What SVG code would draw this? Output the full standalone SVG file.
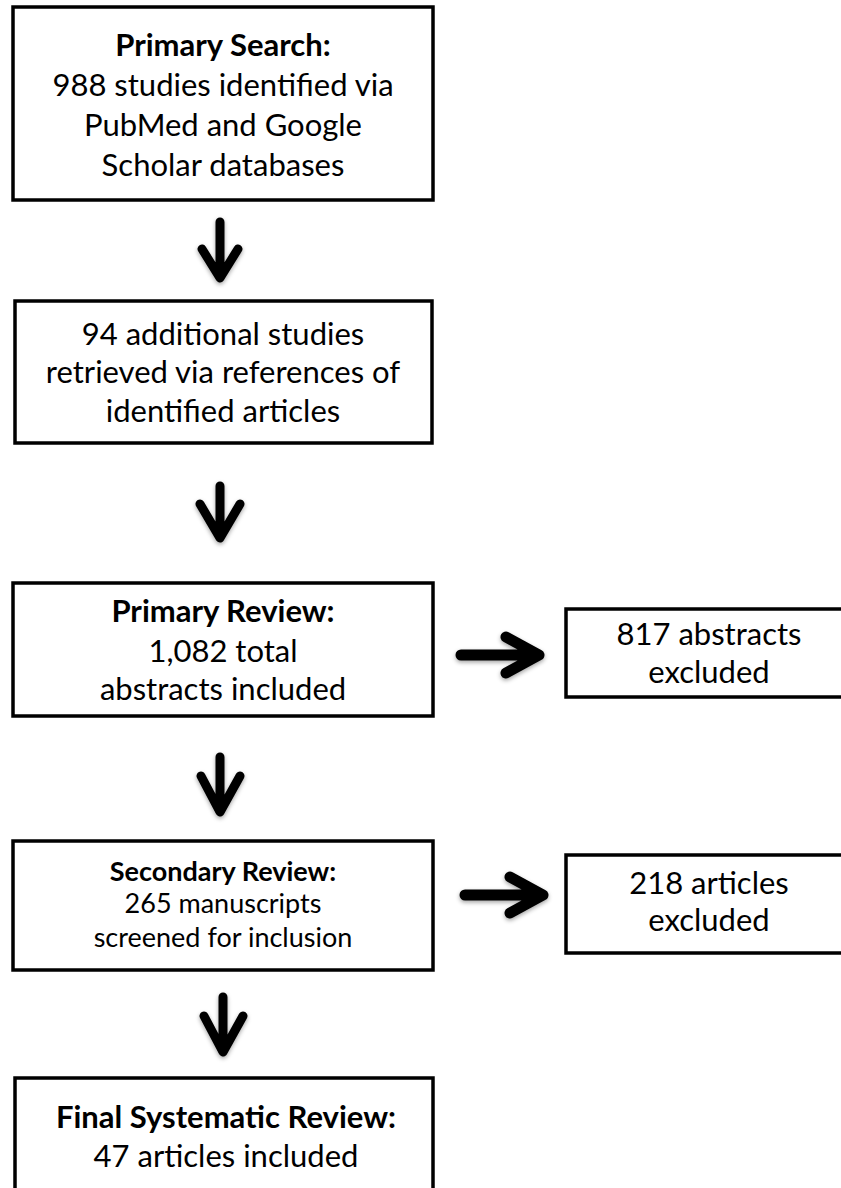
<svg xmlns="http://www.w3.org/2000/svg" width="841" height="1188" viewBox="0 0 841 1188">
<style>
.box{fill:#fff;stroke:#000;stroke-width:3.5}
.t{font-family:Lato,"Liberation Sans",sans-serif;font-size:31px;fill:#000;text-anchor:middle}
.s{font-size:27px}
.b{font-weight:bold}
.arr{fill:none;stroke:#000;stroke-linecap:round;stroke-linejoin:round}
</style>
<defs>
<filter id="sh" x="-50%" y="-50%" width="200%" height="200%">
<feDropShadow dx="0" dy="2" stdDeviation="2" flood-color="#000" flood-opacity="0.35"/>
</filter>
</defs>
<rect width="841" height="1188" fill="#fff"/>
<g id="n1">
<rect class="box" x="13" y="7" width="420" height="193"/>
<text class="t b" x="223" y="56">Primary Search:</text>
<text class="t" x="223" y="96">988 studies identified via</text>
<text class="t" x="223" y="136">PubMed and Google</text>
<text class="t" x="223" y="176">Scholar databases</text>
</g>
<g id="n2">
<rect class="box" x="15" y="301" width="417" height="142"/>
<text class="t" x="223" y="345">94 additional studies</text>
<text class="t" x="223" y="383">retrieved via references of</text>
<text class="t" x="223" y="422">identified articles</text>
</g>
<g id="n3">
<rect class="box" x="13" y="583" width="420" height="133"/>
<text class="t b" x="223" y="622">Primary Review:</text>
<text class="t" x="223" y="662">1,082 total</text>
<text class="t" x="223" y="700">abstracts included</text>
</g>
<g id="n4">
<rect class="box" x="566" y="609" width="300" height="88"/>
<text class="t" x="709" y="645">817 abstracts</text>
<text class="t" x="709" y="683">excluded</text>
</g>
<g id="n5">
<rect class="box" x="13" y="841" width="420" height="129"/>
<text class="t s b" x="223" y="881">Secondary Review:</text>
<text class="t s" x="223" y="913">265 manuscripts</text>
<text class="t s" x="223" y="947">screened for inclusion</text>
</g>
<g id="n6">
<rect class="box" x="566" y="855" width="300" height="98"/>
<text class="t" x="709" y="894">218 articles</text>
<text class="t" x="709" y="931">excluded</text>
</g>
<g id="n7">
<rect class="box" x="15" y="1078" width="418" height="140"/>
<text class="t b" x="226" y="1128">Final Systematic Review:</text>
<text class="t" x="226" y="1167">47 articles included</text>
</g>
<g id="connectors" filter="url(#sh)">
<path class="arr" stroke-width="9" d="M220 222 V276 M202 249 L220 278 L238 249"/>
<path class="arr" stroke-width="9" d="M220 486 V536 M200 504 L220 538 L240 504"/>
<path class="arr" stroke-width="9" d="M220 757 V810 M201 776 L220 812 L240 776"/>
<path class="arr" stroke-width="9" d="M223 997 V1050 M204 1016 L223 1052 L243 1016"/>
<path class="arr" stroke-width="11" d="M461 655 H536 M506 637 L539 655 L506 673"/>
<path class="arr" stroke-width="11" d="M465 895 H540 M510 877 L543 895 L510 913"/>
</g>
</svg>
